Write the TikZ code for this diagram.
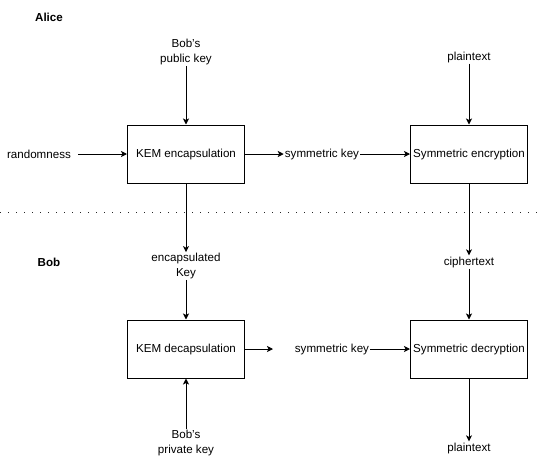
\documentclass[tikz,border=0pt]{standalone}
\usepackage{fontspec}
\setmainfont{Liberation Sans}
\usetikzlibrary{arrows.meta}

\begin{document}
\begin{tikzpicture}[x=1pt, y=-1pt,
        font=\fontsize{11.6}{14.5}\selectfont,
        block/.style = {draw, line width=1pt, minimum width=117pt, minimum height=58pt, inner sep=0pt},
        msg/.style = {inner sep=1pt, align=center},
        party/.style = {font=\fontsize{11.6}{14.5}\selectfont\bfseries},
        flow/.style = {line width=1pt, -{Stealth[length=6pt, width=6pt, inset=1.5pt]}},
        divider/.style = {line width=1.2pt, dash pattern=on 1.2pt off 6.8pt, black!85},]
        \useasboundingbox (0,0) rectangle (542,469);

        \node[party] (alice) at (49,17) {Alice};
        \node[party] (bob) at (49,262) {Bob};

        \node[block] (encap) at (186,154) {KEM encapsulation};
        \node[block] (enc) at (469,154) {Symmetric encryption};
        \node[block] (decap) at (186,349) {KEM decapsulation};
        \node[block] (dec) at (469,349) {Symmetric decryption};

        \node[msg] (rand) at (39,154) {randomness};
        \node[msg] (pk) at (186,52) {Bob's\\public key};
        \node[msg] (symA) at (322,154) {symmetric key};
        \node[msg] (ptA) at (469,57) {plaintext};

        \node[msg] (ek) at (186,266) {encapsulated\\Key};
        \node[msg] (ct) at (469,262) {ciphertext};
        \node[msg] (symB) at (332,349) {symmetric key};
        \node[msg] (sk) at (186,443) {Bob's\\private key};
        \node[msg] (ptB) at (469,448) {plaintext};
        \coordinate (loose) at (273,349);

        \draw[divider] (0,212.5) -- (542,212.5);

        \draw[flow, shorten <=6pt] (rand) -- (encap);
        \draw[flow] (pk) -- (encap);
        \draw[flow] (encap) -- (symA);
        \draw[flow] (symA) -- (enc);
        \draw[flow] (ptA) -- (enc);

        \draw[flow] (encap) -- (ek);
        \draw[flow] (ek) -- (decap);
        \draw[flow] (enc) -- (ct);
        \draw[flow] (ct) -- (dec);
        \draw[flow] (decap) -- (loose);
        \draw[flow] (symB) -- (dec);
        \draw[flow] (dec) -- (ptB);
        \draw[flow] (sk) -- (decap);

\end{tikzpicture}
\end{document}
